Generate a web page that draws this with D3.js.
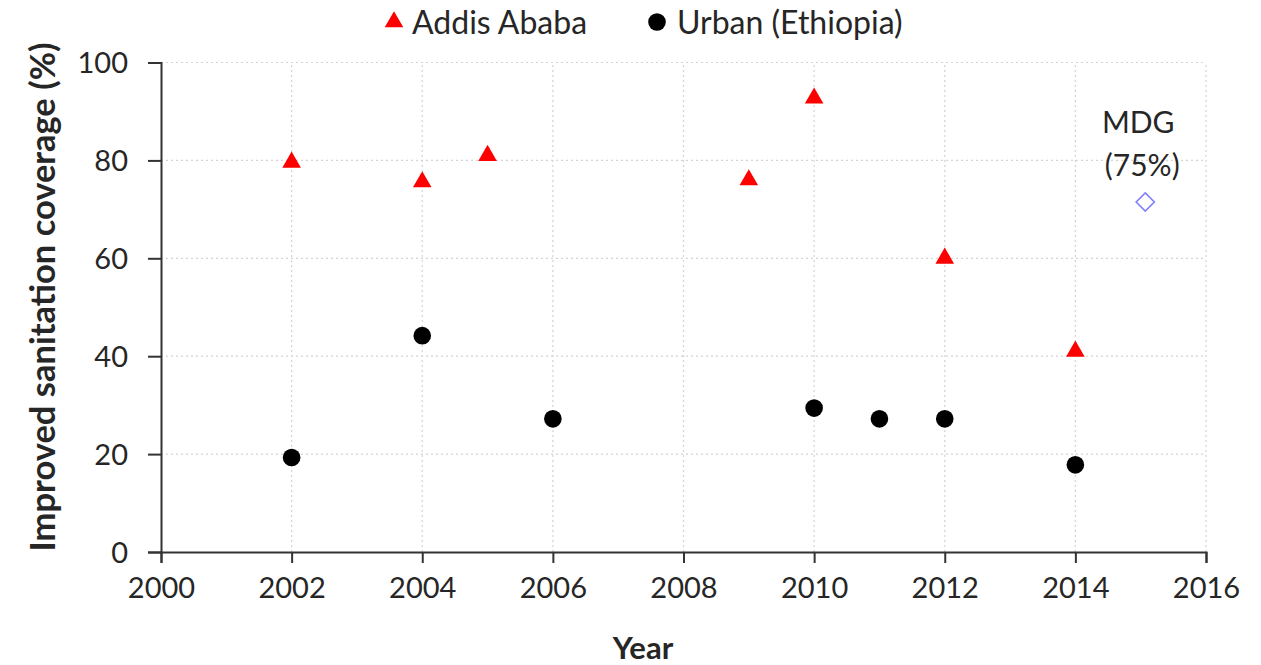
<!DOCTYPE html>
<html>
<head>
<meta charset="utf-8">
<script src="https://cdn.jsdelivr.net/npm/d3@7"></script>
<style>
  body { margin: 0; background: #fff; }
  text { font-family: Lato, "Open Sans", sans-serif; fill: #262626; }
</style>
</head>
<body>
<script>
// data
let addisYears = [2002, 2004, 2005, 2009, 2010, 2012, 2014];
let addisValues = [79.6, 75.6, 81, 76, 92.7, 60, 41];
let urbanYears = [2002, 2004, 2006, 2010, 2011, 2012, 2014];
let urbanValues = [19.3, 44.2, 27.2, 29.4, 27.2, 27.2, 17.8];
let mdgYear = [2015.07];
let mdgValue = [71.5];
let xTicks = [2000, 2002, 2004, 2006, 2008, 2010, 2012, 2014, 2016];
let yTicks = [0, 20, 40, 60, 80, 100];

let W = 1261, H = 665;
let m = { top: 62.5, left: 161, right: 55, bottom: 113 };

let svg = d3.select("body").append("svg")
    .attr("width", W)
    .attr("height", H);

let x = d3.scaleLinear().domain([2000, 2016]).range([m.left, W - m.right]);
let y = d3.scaleLinear().domain([0, 100]).range([H - m.bottom, m.top]);

// dotted gridlines
let grid = svg.append("g")
    .attr("stroke", "#d4d4d4")
    .attr("stroke-width", 1.2)
    .attr("stroke-dasharray", "2,3");
grid.selectAll(".gy").data(yTicks.slice(1)).enter().append("line")
    .attr("x1", x(2000)).attr("x2", x(2016))
    .attr("y1", d => y(d)).attr("y2", d => y(d));
grid.selectAll(".gx").data(xTicks.slice(1)).enter().append("line")
    .attr("x1", d => x(d)).attr("x2", d => x(d))
    .attr("y1", y(0)).attr("y2", y(100));

// axes
let xAxis = svg.append("g")
    .attr("transform", "translate(0," + y(0) + ")")
    .call(d3.axisBottom(x).tickValues(xTicks).tickFormat(d3.format("d"))
        .tickSize(11).tickPadding(14));
let yAxis = svg.append("g")
    .attr("transform", "translate(" + x(2000) + ",0)")
    .call(d3.axisLeft(y).tickValues(yTicks).tickSize(13).tickPadding(20));

[xAxis, yAxis].forEach(function(a) {
    a.selectAll("path, line").attr("stroke", "#333").attr("stroke-width", 2);
    a.selectAll("text").attr("font-size", 29).attr("fill", "#262626")
        .style("font-family", "Lato, sans-serif");
});
yAxis.selectAll("text").attr("dy", "0.36em");

// markers
let tri = d3.symbol().type(d3.symbolTriangle).size(150);
let circ = d3.symbol().type(d3.symbolCircle).size(245);

svg.selectAll(".addis").data(addisYears).enter().append("path")
    .attr("d", tri)
    .attr("fill", "#ff0000")
    .attr("transform", (d, i) => "translate(" + x(d) + "," + y(addisValues[i]) + ")");

svg.selectAll(".urban").data(urbanYears).enter().append("path")
    .attr("d", circ)
    .attr("fill", "#000")
    .attr("transform", (d, i) => "translate(" + x(d) + "," + y(urbanValues[i]) + ")");

svg.selectAll(".mdg").data(mdgYear).enter().append("path")
    .attr("d", d3.symbol().type(d3.symbolDiamond2).size(210))
    .attr("fill", "none")
    .attr("stroke", "#8080ff")
    .attr("stroke-width", 1.6)
    .attr("transform", (d, i) => "translate(" + x(d) + "," + y(mdgValue[i]) + ")");

svg.append("text")
    .attr("x", x(mdgYear[0]) - 7).attr("y", y(mdgValue[0]) - 80)
    .attr("text-anchor", "middle").attr("dy", "0.36em")
    .attr("font-size", 30).text("MDG");
svg.append("text")
    .attr("x", x(mdgYear[0]) - 3).attr("y", y(mdgValue[0]) - 37)
    .attr("text-anchor", "middle").attr("dy", "0.36em")
    .attr("font-size", 30).text("(75%)");

// axis titles
svg.append("text")
    .attr("x", 643).attr("y", 648).attr("dy", "0.36em")
    .attr("text-anchor", "middle")
    .attr("font-size", 31).attr("font-weight", "bold")
    .text("Year");
svg.append("text")
    .attr("transform", "translate(43,297) rotate(-90)")
    .attr("dy", "0.36em")
    .attr("text-anchor", "middle")
    .attr("font-size", 34.5).attr("font-weight", "bold")
    .text("Improved sanitation coverage (%)");

// legend
let legend = svg.append("g");
legend.append("path").attr("d", tri)
    .attr("fill", "#ff0000")
    .attr("transform", "translate(394,22)");
legend.append("text").attr("x", 412).attr("y", 22).attr("dy", "0.36em")
    .attr("font-size", 32).text("Addis Ababa");
legend.append("path").attr("d", circ)
    .attr("fill", "#000")
    .attr("transform", "translate(657,22)");
legend.append("text").attr("x", 677).attr("y", 22).attr("dy", "0.36em")
    .attr("font-size", 32).text("Urban (Ethiopia)");
</script>
</body>
</html>
